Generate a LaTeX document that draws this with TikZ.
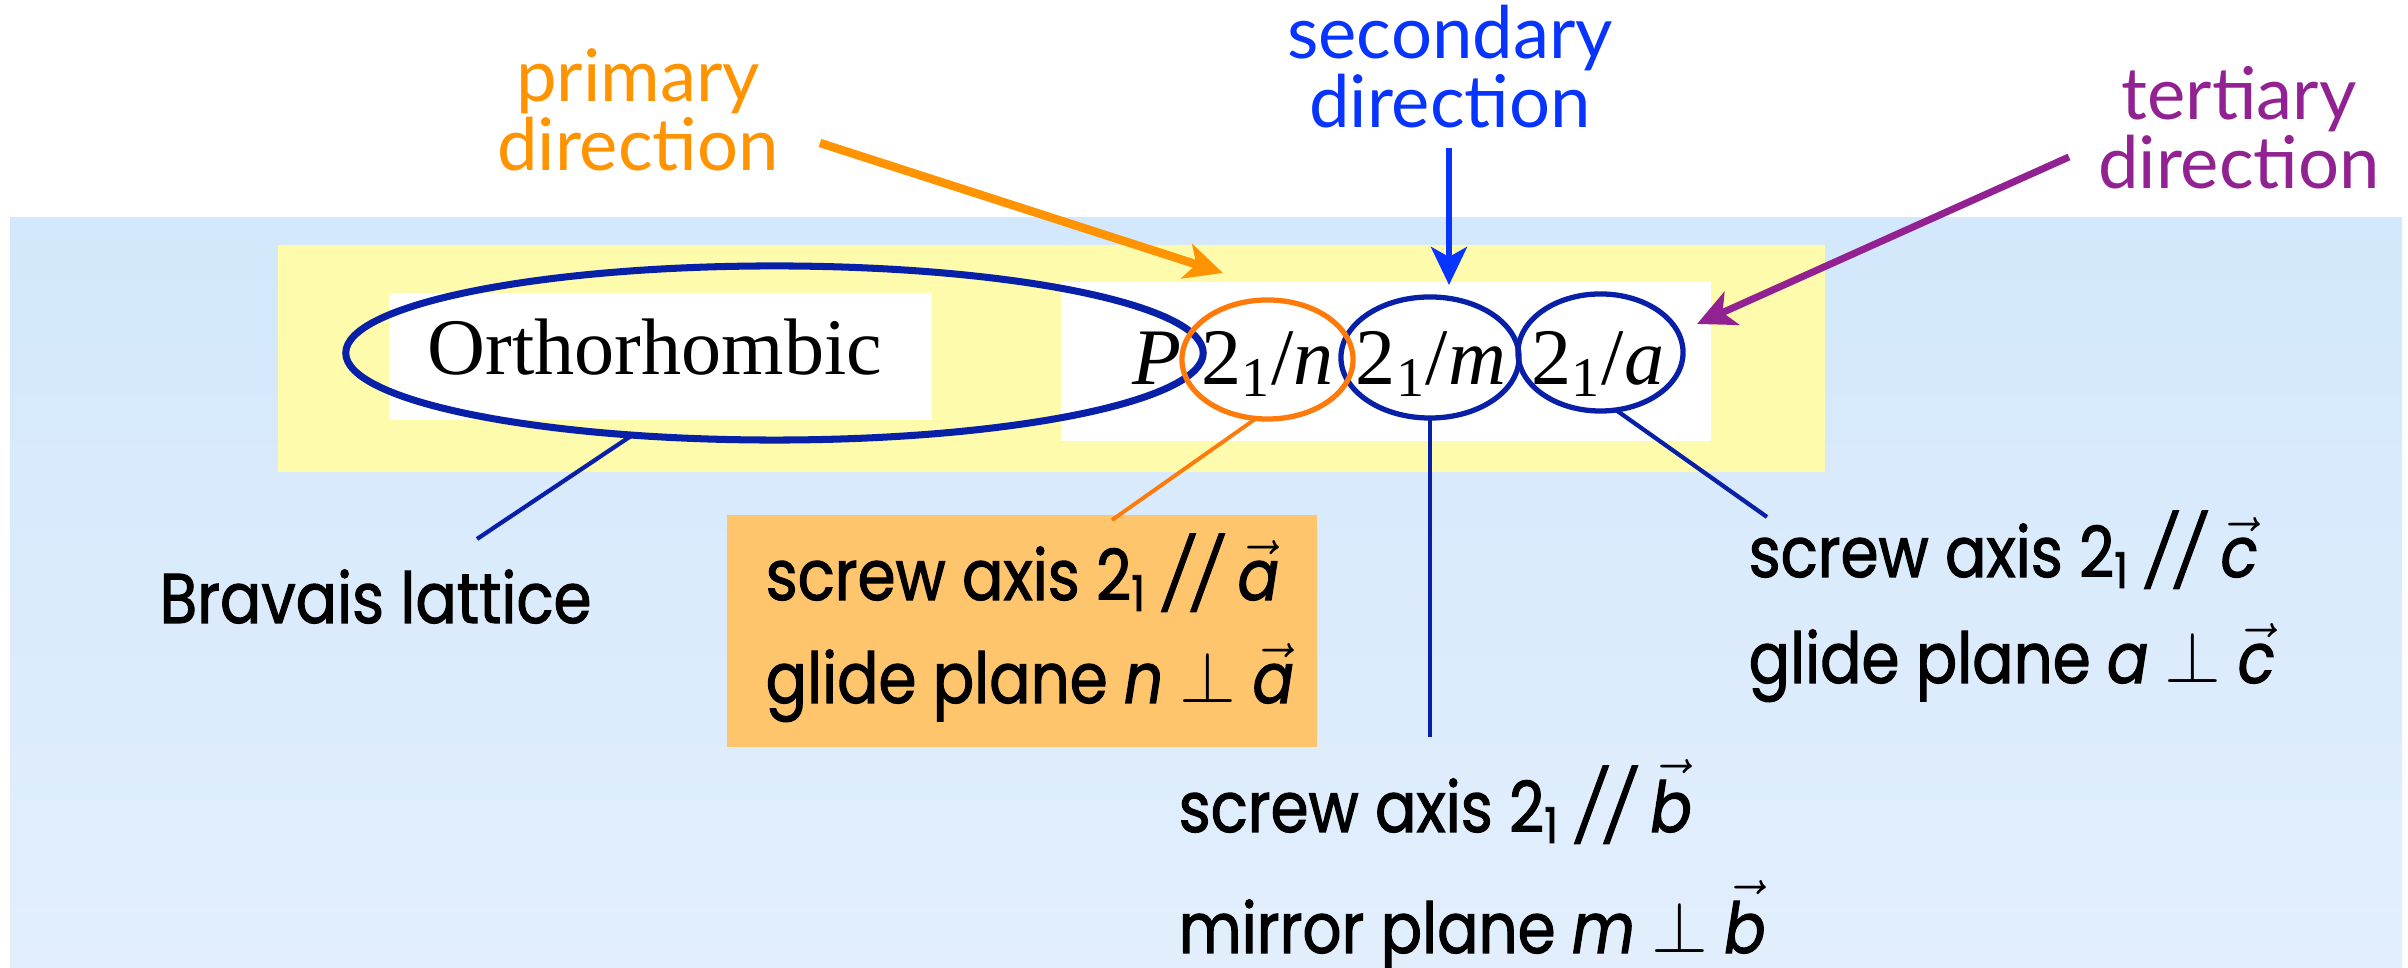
\documentclass[tikz,border=0pt]{standalone}
\usepackage{fontspec}
\setmainfont{Liberation Serif}
\newfontfamily\gill{Lato}
\newfontfamily\comic[FakeStretch=0.87, FakeBold=1.5]{Poppins}
\usetikzlibrary{arrows.meta,shapes.geometric,calc}
\definecolor{bgtop}{RGB}{211,232,252}
\definecolor{bgbot}{RGB}{226,238,252}
\definecolor{ylw}{RGB}{255,251,172}
\definecolor{oboxc}{RGB}{254,197,108}
\definecolor{dblue}{RGB}{8,32,168}
\definecolor{oell}{RGB}{255,122,8}
\definecolor{otxt}{RGB}{255,148,0}
\definecolor{btxt}{RGB}{8,52,255}
\definecolor{ptxt}{RGB}{146,34,146}
\newcommand\va[1]{$\vec{\mbox{\itshape #1}}$}
\begin{document}
\begin{tikzpicture}[x=0.01cm,y=-0.01cm,
  ell/.style={ellipse, draw, inner sep=0pt, outer sep=0pt},
  dirlabel/.style={align=center, inner sep=0pt, anchor=south, font=\gill\fontsize{20.6pt}{17.36pt}\selectfont},
  serif/.style={inner sep=0pt, font=\fontsize{22.8pt}{24pt}\selectfont},
  ctext/.style={inner sep=0pt, anchor=base west, font=\comic\fontsize{20pt}{22pt}\selectfont},
  bigarrow/.style={-{Stealth[length=0.38cm, width=0.36cm, inset=0.1cm]}},
]
\useasboundingbox (0,0) rectangle (2408,968);
\fill[white] (0,0) rectangle (2408,968);
\shade[top color=bgtop, bottom color=bgbot] (10,218) rectangle (2402,968);
\fill[ylw] (278,245) rectangle (1825,472);
\fill[white] (389,293) rectangle (932,420);
\fill[white] (1061,282) rectangle (1711,441);
\node[fill=oboxc, inner sep=0pt, minimum width=5.90cm, minimum height=2.32cm] (obox) at (1022,631) {};

% formula texts
\node[serif, anchor=base] (ortho) at (655,375) {Orthorhombic};
\node[serif, anchor=base west] (P) at (1132,385) {\textit{P}};
\node[serif, anchor=base] (t1) at (1267.5,385) {2\textsubscript{1}/\textit{n}};
\node[serif, anchor=base] (t2) at (1431,385) {2\textsubscript{1}/\textit{m}};
\node[serif, anchor=base] (t3) at (1598,385) {2\textsubscript{1}/\textit{a}};

% ellipses
\node[ell, draw=dblue, line width=2pt, minimum width=8.57cm, minimum height=1.74cm] (eb) at (774.5,353) {};
\node[ell, draw=dblue, line width=1.5pt, minimum width=1.78cm, minimum height=1.21cm] (em) at (1430,357.5) {};
\node[ell, draw=dblue, line width=1.5pt, minimum width=1.65cm, minimum height=1.17cm] (ea) at (1600.5,352.5) {};
\node[ell, draw=oell, line width=1.5pt, minimum width=1.71cm, minimum height=1.19cm] (en) at (1267.5,359.5) {};

% direction labels
\node[dirlabel, text=otxt] (plabel) at (638,172) {primary\\direction};
\node[dirlabel, text=btxt] (slabel) at (1450,129) {secondary\\direction};
\node[dirlabel, text=ptxt] (tlabel) at (2239,190) {tertiary\\direction};

\coordinate (pstart) at (820,143);
\coordinate (ptip) at (1223,273);
\coordinate (sstart) at (1449,148);
\coordinate (stip) at (1449,285);
\coordinate (tstart) at (2069,157);
\coordinate (ttip) at (1697,324);
\draw[otxt, line width=2.4pt, bigarrow] (pstart) -- (ptip);
\draw[btxt, line width=1.7pt, bigarrow] (sstart) -- (stip);
\draw[ptxt, line width=2pt, bigarrow] (tstart) -- (ttip);

% lower texts
\node[ctext] (bravais) at (159,623) {Bravais lattice};
\node[ctext] (n1) at (765,600) {screw axis 2\textsubscript{1} {\itshape //} \va{a}};
\node[ctext] (n2) at (765,703) {glide plane \textit{n} $\perp$ \va{a}};
\node[ctext] (c1) at (1748,577) {screw axis 2\textsubscript{1} {\itshape //} \va{c}};
\node[ctext] (c2) at (1748,683) {glide plane \textit{a} $\perp$ \va{c}};
\node[ctext] (b1) at (1178,832) {screw axis 2\textsubscript{1} {\itshape //} \va{b}};
\node[ctext] (b2) at (1178,953) {mirror plane \textit{m} $\perp$ \va{b}};

% connectors
\coordinate (blend) at (477,539);
\coordinate (nend) at (1112,520);
\coordinate (mend) at (1430,737);
\coordinate (aend) at (1767,517);
\draw[dblue, line width=1.2pt] (eb.210) -- (blend);
\draw[oell, line width=1.1pt] (en.259) -- (nend);
\draw[dblue, line width=1pt] (em.south) -- (mend);
\draw[dblue, line width=1.2pt] (ea.285) -- (aend);
\end{tikzpicture}
\end{document}
